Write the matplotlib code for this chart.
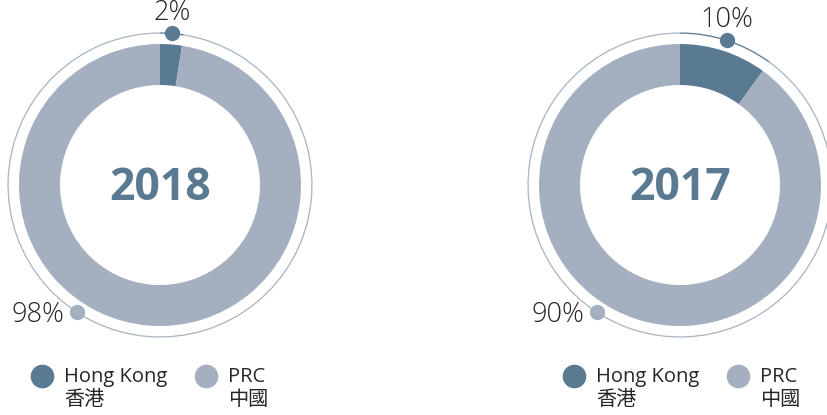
import numpy as np
import matplotlib.pyplot as plt

plt.rcParams['font.family'] = ['Open Sans', 'Noto Sans CJK TC', 'DejaVu Sans']

# data
years = ['2018', '2017']
hk_share = [2.5, 10.0]          # drawn share of Hong Kong
hk_labels = ['2%', '10%']
prc_labels = ['98%', '90%']
categories = ['Hong Kong', 'PRC']
categories_zh = ['香港', '中國']

hk_color = '#5a7a91'
prc_color = '#a4b0bf'
ring_color = '#a9b6c4'
text_color = '#262626'

centers_x = [160, 680]
center_y = 415 - 185
r_outer, r_inner, r_ring = 141, 100, 152
prc_dot_angle = 213  # clockwise from top, degrees

fig = plt.figure(figsize=(8.27, 4.15), dpi=100)
ax = fig.add_axes([0, 0, 1, 1])
ax.set_xlim(0, 827)
ax.set_ylim(0, 415)
ax.set_aspect('equal')
ax.axis('off')


def pos(cx, cy, r, ang):
    a = np.deg2rad(ang)
    return cx + r * np.sin(a), cy + r * np.cos(a)


for i, year in enumerate(years):
    cx = centers_x[i]
    vals = [hk_share[i], 100 - hk_share[i]]
    # donut
    ax.pie(vals, colors=[hk_color, prc_color], startangle=90, counterclock=False,
           radius=r_outer, center=(cx, center_y), frame=True,
           wedgeprops=dict(width=r_outer - r_inner, linewidth=0))
    # thin outer ring
    ax.pie(vals, colors=[hk_color, ring_color], startangle=90, counterclock=False,
           radius=r_ring + 0.6, center=(cx, center_y), frame=True,
           wedgeprops=dict(width=1.3, linewidth=0))
    ax.set_xlim(0, 827)
    ax.set_ylim(0, 415)
    ax.axis('off')

    # year in the middle
    ax.text(cx, center_y - 3, year, ha='center', va='center', fontsize=32,
            fontweight='bold', color=hk_color)

    # HK dot and label
    hk_ang = hk_share[i] / 100 * 360 / 2
    hx, hy = pos(cx, center_y, r_ring, hk_ang)
    ax.plot(hx, hy, 'o', ms=10, color=hk_color, zorder=5)
    ax.text(hx, hy + 20, hk_labels[i], ha='center', va='center', fontsize=19.5,
            fontweight='light', color=text_color)

    # PRC dot and label
    px, py = pos(cx, center_y, r_ring, prc_dot_angle)
    ax.plot(px, py, 'o', ms=10, color=prc_color, zorder=5)
    ax.text(px - 13, py - 3, prc_labels[i], ha='right', va='center', fontsize=19.5,
            fontweight='light', color=text_color)

# legends
legend_dot_x = [[42, 206], [574, 738]]
for i in range(2):
    for j, col in enumerate([hk_color, prc_color]):
        lx = legend_dot_x[i][j]
        ax.plot(lx, 415 - 376, 'o', ms=16, color=col)
        ax.text(lx + 22, 415 - 377, categories[j], ha='left', va='center',
                fontsize=14.5, color=text_color)
        ax.text(lx + 22, 415 - 400, categories_zh[j], ha='left', va='center',
                fontsize=14.5, color=text_color)

fig.savefig('out.png', dpi=100)
